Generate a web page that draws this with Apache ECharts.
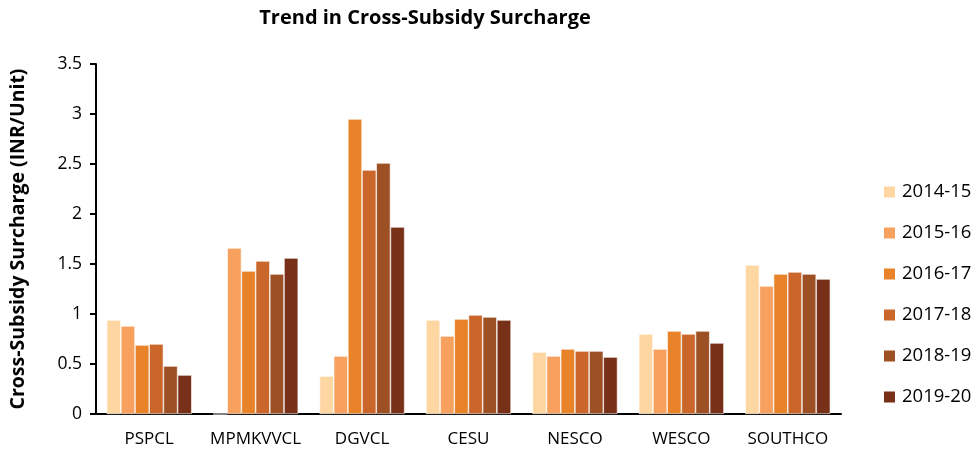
<!DOCTYPE html>
<html lang="en">
<head>
    <meta charset="UTF-8">
    <title>Trend in Cross-Subsidy Surcharge</title>
    <script src="https://cdn.jsdelivr.net/npm/echarts@6/dist/echarts.min.js"></script>
    <style type="text/css">
        html, body { height: 100%; margin: 0; background: #ffffff; }
        #main { width: 976px; height: 452px; }
    </style>
</head>
<body>
    <div id="main"></div>
    <script type="text/javascript">
        // 分类与年份
        var utilities = ['PSPCL', 'MPMKVVCL', 'DGVCL', 'CESU', 'NESCO', 'WESCO', 'SOUTHCO'];
        var years = ['2014-15', '2015-16', '2016-17', '2017-18', '2018-19', '2019-20'];
        var yearColors = ['#FED6A2', '#F8A05D', '#E98329', '#CB662A', '#9D5024', '#793018'];

        // 每年各公司的附加费 (INR/Unit)
        var fy1415 = [0.94, 0.00, 0.38, 0.94, 0.62, 0.80, 1.49];
        var fy1516 = [0.88, 1.66, 0.58, 0.78, 0.58, 0.65, 1.28];
        var fy1617 = [0.69, 1.43, 2.95, 0.95, 0.65, 0.83, 1.40];
        var fy1718 = [0.70, 1.53, 2.44, 0.99, 0.63, 0.80, 1.42];
        var fy1819 = [0.48, 1.40, 2.51, 0.97, 0.63, 0.83, 1.40];
        var fy1920 = [0.39, 1.56, 1.87, 0.94, 0.57, 0.71, 1.35];
        var seriesValues = [fy1415, fy1516, fy1617, fy1718, fy1819, fy1920];

        var chart = echarts.init(document.getElementById('main'));
        var fontFamily = '"Open Sans", "Noto Sans", sans-serif';

        var series = years.map(function (y, i) {
            return {
                name: y,
                type: 'bar',
                data: seriesValues[i],
                barGap: '0%',
                barCategoryGap: '20%',
                itemStyle: { color: yearColors[i], borderColor: '#ffffff', borderWidth: 0.6 }
            };
        });

        var option = {
            backgroundColor: '#ffffff',
            textStyle: { fontFamily: fontFamily },
            title: {
                text: 'Trend in Cross-Subsidy Surcharge',
                left: 420,
                textAlign: 'center',
                top: 3,
                textStyle: { fontSize: 20, fontWeight: 'bold', color: '#000', fontFamily: fontFamily }
            },
            legend: {
                orient: 'vertical',
                left: 877,
                top: 177,
                itemWidth: 13,
                itemHeight: 13,
                itemGap: 21,
                icon: 'rect',
                textStyle: { fontSize: 18.5, lineHeight: 20, color: '#000', fontFamily: fontFamily, padding: [0, 0, 0, 1] },
                data: years
            },
            grid: { left: 92, right: 135, top: 64, bottom: 38 },
            xAxis: {
                type: 'category',
                data: utilities,
                axisLine: { lineStyle: { color: '#000', width: 2 } },
                axisTick: { length: 6, lineStyle: { color: '#000', width: 2 } },
                axisLabel: { interval: 0, fontSize: 17, color: '#000', margin: 17, fontFamily: fontFamily }
            },
            yAxis: {
                type: 'value',
                min: 0,
                max: 3.5,
                interval: 0.5,
                name: 'Cross-Subsidy Surcharge (INR/Unit)',
                nameLocation: 'middle',
                nameGap: 68,
                nameTextStyle: { fontSize: 19.5, fontWeight: 'bold', color: '#000', fontFamily: fontFamily },
                axisLine: { show: true, lineStyle: { color: '#000', width: 2 } },
                axisTick: { show: true, length: 6, lineStyle: { color: '#000', width: 2 } },
                axisLabel: { fontSize: 17.5, color: '#000', margin: 14, fontFamily: fontFamily },
                splitLine: { show: false }
            },
            series: series
        };
        chart.setOption(option);
    </script>
</body>
</html>
